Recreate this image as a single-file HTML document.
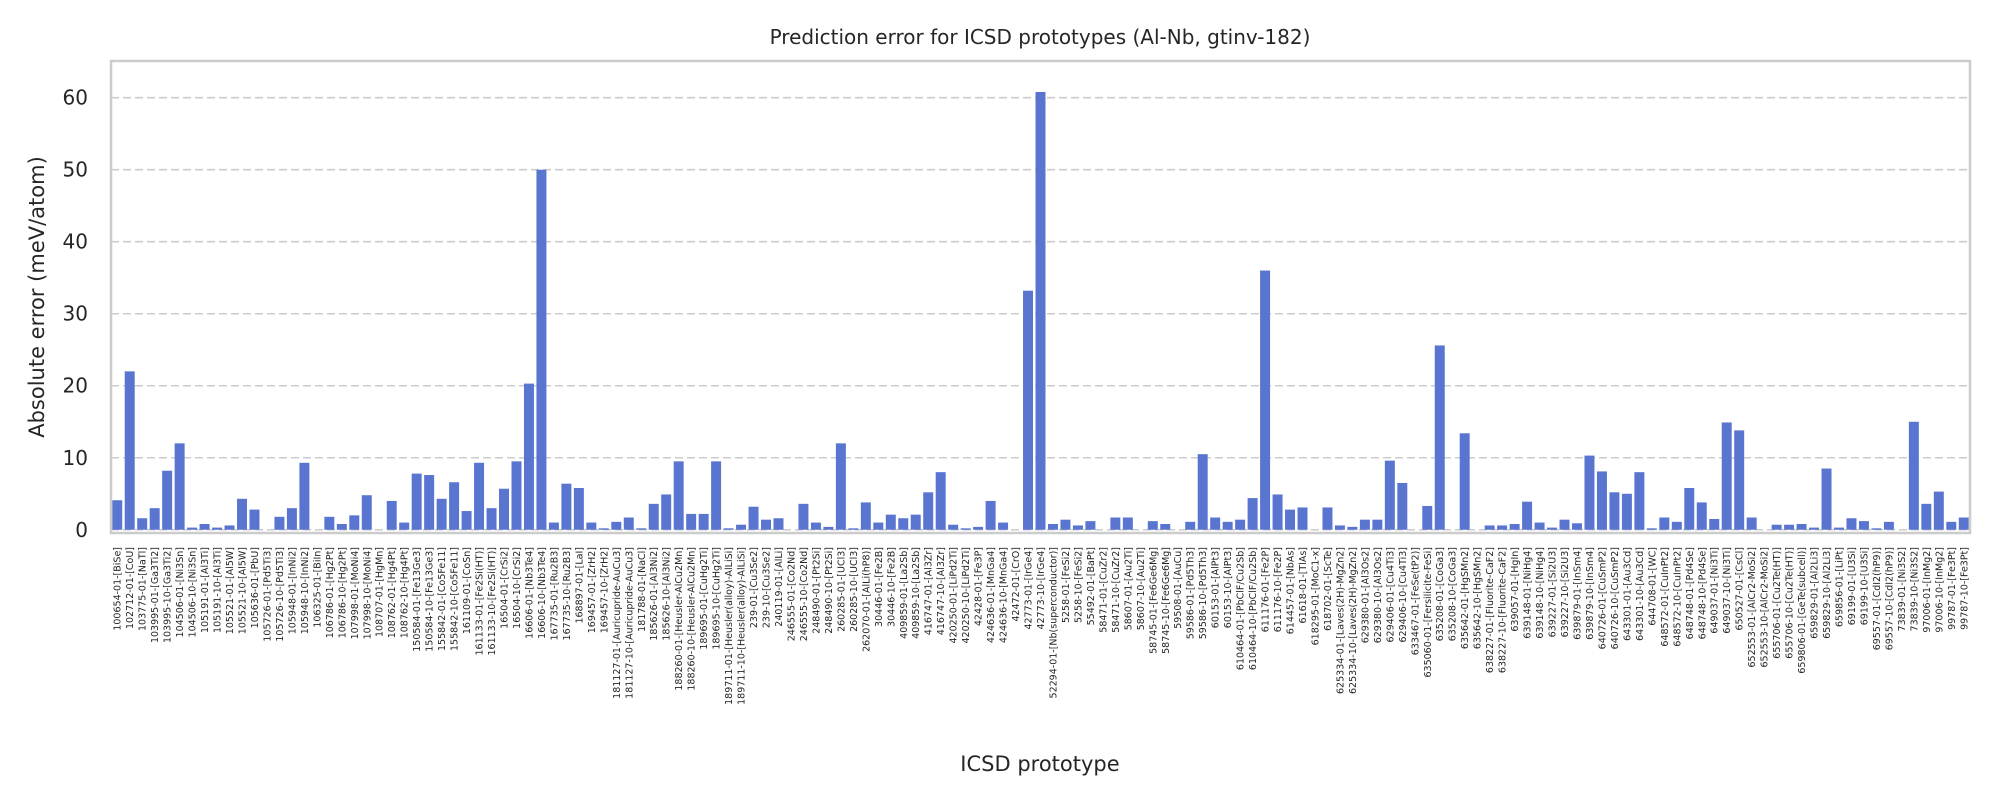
<!DOCTYPE html>
<html><head><meta charset="utf-8">
<style>
html,body{margin:0;padding:0;background:#fff;}
svg{display:block;font-family:"DejaVu Sans","Liberation Sans",sans-serif;}
</style></head>
<body>
<svg id="chart" width="2000" height="800" viewBox="0 0 2000 800">
<rect x="0" y="0" width="2000" height="800" fill="#fff"/>
<text x="1040" y="44" text-anchor="middle" font-size="20" fill="#262626">Prediction error for ICSD prototypes (Al-Nb, gtinv-182)</text>
<g id="grid"></g>
<g id="bars"></g>
<rect x="111" y="61" width="1859" height="472" fill="none" stroke="#cccccc" stroke-width="2.5"/>
<g id="yticks"></g>
<g id="xticks"></g>
<text transform="translate(44,297) rotate(-90)" text-anchor="middle" font-size="21" fill="#262626">Absolute error (meV/atom)</text>
<text x="1040" y="771" text-anchor="middle" font-size="21" fill="#262626">ICSD prototype</text>
</svg>
<script>
const categories = ["100654-01-[BiSe]","102712-01-[CoU]","103775-01-[NaTl]","103995-01-[Ga3Ti2]","103995-10-[Ga3Ti2]","104506-01-[Ni3Sn]","104506-10-[Ni3Sn]","105191-01-[Al3Ti]","105191-10-[Al3Ti]","105521-01-[Al5W]","105521-10-[Al5W]","105636-01-[PbU]","105726-01-[Pd5Ti3]","105726-10-[Pd5Ti3]","105948-01-[InNi2]","105948-10-[InNi2]","106325-01-[BiIn]","106786-01-[Hg2Pt]","106786-10-[Hg2Pt]","107998-01-[MoNi4]","107998-10-[MoNi4]","108707-01-[HgMn]","108762-01-[Hg4Pt]","108762-10-[Hg4Pt]","150584-01-[Fe13Ge3]","150584-10-[Fe13Ge3]","155842-01-[Co5Fe11]","155842-10-[Co5Fe11]","161109-01-[CoSn]","161133-01-[Fe2Si(HT)]","161133-10-[Fe2Si(HT)]","16504-01-[CrSi2]","16504-10-[CrSi2]","16606-01-[Nb3Te4]","16606-10-[Nb3Te4]","167735-01-[Ru2B3]","167735-10-[Ru2B3]","168897-01-[LaI]","169457-01-[ZrH2]","169457-10-[ZrH2]","181127-01-[Auricupride-AuCu3]","181127-10-[Auricupride-AuCu3]","181788-01-[NaCl]","185626-01-[Al3Ni2]","185626-10-[Al3Ni2]","188260-01-[Heusler-AlCu2Mn]","188260-10-[Heusler-AlCu2Mn]","189695-01-[CuHg2Ti]","189695-10-[CuHg2Ti]","189711-01-[Heusler(alloy)-AlLiSi]","189711-10-[Heusler(alloy)-AlLiSi]","239-01-[Cu3Se2]","239-10-[Cu3Se2]","240119-01-[AlLi]","246555-01-[Co2Nd]","246555-10-[Co2Nd]","248490-01-[Pt2Si]","248490-10-[Pt2Si]","260285-01-[UCl3]","260285-10-[UCl3]","262070-01-[AlLi(hP8)]","30446-01-[Fe2B]","30446-10-[Fe2B]","409859-01-[La2Sb]","409859-10-[La2Sb]","416747-01-[Al3Zr]","416747-10-[Al3Zr]","420250-01-[LiPd2Ti]","420250-10-[LiPd2Ti]","42428-01-[Fe3P]","424636-01-[MnGa4]","424636-10-[MnGa4]","42472-01-[CrO]","42773-01-[IrGe4]","42773-10-[IrGe4]","52294-01-[Nb(superconductor)]","5258-01-[FeSi2]","5258-10-[FeSi2]","55492-01-[BaPt]","58471-01-[CuZr2]","58471-10-[CuZr2]","58607-01-[Au2Ti]","58607-10-[Au2Ti]","58745-01-[Fe6Ge6Mg]","58745-10-[Fe6Ge6Mg]","59508-01-[AuCu]","59586-01-[Pd5Th3]","59586-10-[Pd5Th3]","60153-01-[AlPt3]","60153-10-[AlPt3]","610464-01-[PbClF/Cu2Sb]","610464-10-[PbClF/Cu2Sb]","611176-01-[Fe2P]","611176-10-[Fe2P]","614457-01-[NbAs]","61618-01-[TlAs]","618295-01-[MoC1-x]","618702-01-[ScTe]","625334-01-[Laves(2H)-MgZn2]","625334-10-[Laves(2H)-MgZn2]","629380-01-[Al3Os2]","629380-10-[Al3Os2]","629406-01-[Cu4Ti3]","629406-10-[Cu4Ti3]","633467-01-[FeSe(tP2)]","635060-01-[Fersilicite-FeSi]","635208-01-[CoGa3]","635208-10-[CoGa3]","635642-01-[HgSMn2]","635642-10-[HgSMn2]","638227-01-[Fluorite-CaF2]","638227-10-[Fluorite-CaF2]","639057-01-[HgIn]","639148-01-[NiHg4]","639148-10-[NiHg4]","639227-01-[Si2U3]","639227-10-[Si2U3]","639879-01-[InSm4]","639879-10-[InSm4]","640726-01-[CuSmP2]","640726-10-[CuSmP2]","643301-01-[Au3Cd]","643301-10-[Au3Cd]","644708-01-[WC]","648572-01-[CuInPt2]","648572-10-[CuInPt2]","648748-01-[Pd4Se]","648748-10-[Pd4Se]","649037-01-[Ni3Ti]","649037-10-[Ni3Ti]","650527-01-[CsCl]","652553-01-[AlCr2-MoSi2]","652553-10-[AlCr2-MoSi2]","655706-01-[Cu2Te(HT)]","655706-10-[Cu2Te(HT)]","659806-01-[GeTe(subcell)]","659829-01-[Al2Li3]","659829-10-[Al2Li3]","659856-01-[LiPt]","69199-01-[U3Si]","69199-10-[U3Si]","69557-01-[CdI2(hP9)]","69557-10-[CdI2(hP9)]","73839-01-[Ni3S2]","73839-10-[Ni3S2]","97006-01-[InMg2]","97006-10-[InMg2]","99787-01-[Fe3Pt]","99787-10-[Fe3Pt]"];
const errors = [4.1,22,1.6,3,8.2,12,0.3,0.8,0.3,0.6,4.3,2.8,0,1.8,3,9.3,0,1.8,0.8,2,4.8,0,4,1,7.8,7.6,4.3,6.6,2.6,9.3,3,5.7,9.5,20.3,50,1,6.4,5.8,1,0.2,1.1,1.7,0.2,3.6,4.9,9.5,2.2,2.2,9.5,0.2,0.7,3.2,1.4,1.6,0,3.6,1,0.4,12,0.2,3.8,1,2.1,1.6,2.1,5.2,8,0.7,0.2,0.4,4,1,0,33.2,60.8,0.8,1.4,0.6,1.2,0,1.7,1.7,0,1.2,0.8,0,1.1,10.5,1.7,1.1,1.4,4.4,36,4.9,2.8,3.1,0,3.1,0.6,0.4,1.4,1.4,9.6,6.5,0,3.3,25.6,0,13.4,0,0.6,0.6,0.8,3.9,1,0.3,1.4,0.9,10.3,8.1,5.2,5,8,0.2,1.7,1.1,5.8,3.8,1.5,14.9,13.8,1.7,0,0.7,0.7,0.8,0.3,8.5,0.3,1.6,1.2,0.2,1.1,0,15,3.6,5.3,1.1,1.7];
const yTicks = [0,10,20,30,40,50,60];

const NS = "http://www.w3.org/2000/svg";
const L = 111, R = 1970, T = 61, B = 533;
const yMin = -0.45, yMax = 65.1;
function yScale(v){ return B - (v - yMin) / (yMax - yMin) * (B - T); }
const step = (R - L) / categories.length;
function xScale(i){ return L + step * (i + 0.5); }

const grid = document.getElementById('grid');
const yt = document.getElementById('yticks');
yTicks.forEach(t => {
  const y = yScale(t);
  const ln = document.createElementNS(NS, 'line');
  ln.setAttribute('x1', L); ln.setAttribute('x2', R);
  ln.setAttribute('y1', y); ln.setAttribute('y2', y);
  ln.setAttribute('stroke', '#cccccc'); ln.setAttribute('stroke-width', '1.6');
  ln.setAttribute('stroke-dasharray', '8,4');
  
  
  grid.appendChild(ln);
  const tx = document.createElementNS(NS, 'text');
  tx.setAttribute('x', 88); tx.setAttribute('y', y + 7);
  tx.setAttribute('text-anchor', 'end'); tx.setAttribute('font-size', '20');
  tx.setAttribute('fill', '#262626');
  tx.textContent = t;
  
  
  yt.appendChild(tx);
});

const bars = document.getElementById('bars');
const xt = document.getElementById('xticks');
const bw = step * 0.8;
categories.forEach((c, i) => {
  const v = errors[i];
  const y0 = yScale(0), y1 = yScale(v);
  const r = document.createElementNS(NS, 'rect');
  r.setAttribute('x', xScale(i) - bw / 2);
  r.setAttribute('width', bw);
  r.setAttribute('y', Math.min(y0, y1));
  r.setAttribute('height', Math.abs(y0 - y1));
  r.setAttribute('fill', '#5975d0');
  
  
  bars.appendChild(r);
  const tx = document.createElementNS(NS, 'text');
  const x = xScale(i) + 3.5, y = 547;
  tx.setAttribute('transform', 'translate(' + x + ',' + y + ') rotate(-90)');
  tx.setAttribute('text-anchor', 'end');
  tx.setAttribute('font-size', '9.5');
  tx.setAttribute('fill', '#262626');
  tx.textContent = c;
  
  
  xt.appendChild(tx);
});
</script>
</body></html>
